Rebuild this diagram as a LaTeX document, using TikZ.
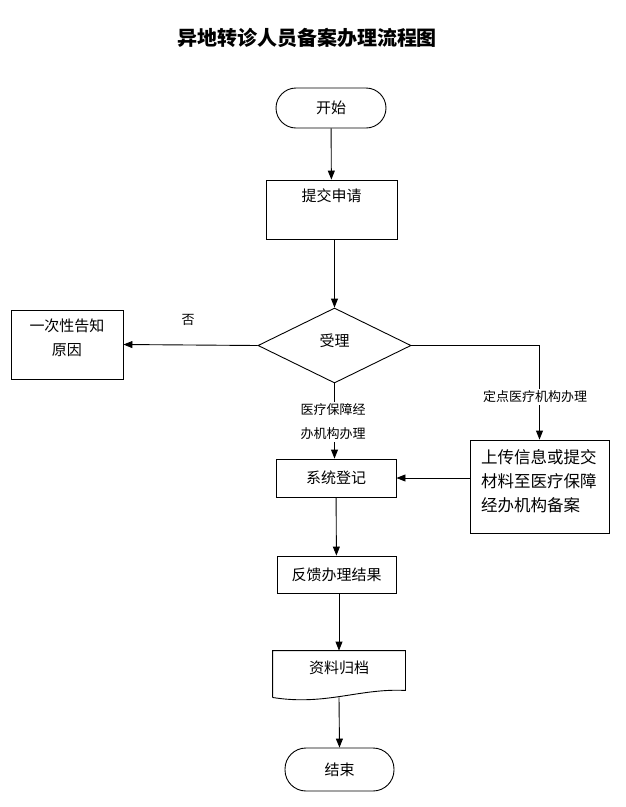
\documentclass[tikz,border=0pt]{standalone}
\usepackage{fontspec}
\setmainfont{Noto Sans CJK SC}
\usetikzlibrary{arrows.meta,shapes.geometric}

\begin{document}
\begin{tikzpicture}[x=1pt,y=-1pt,line width=0.9pt,
        every node/.style={font=\fontsize{15}{24}\selectfont},
        box/.style={draw,rectangle},
        term/.style={draw,rectangle,rounded corners=20pt},
        dec/.style={draw,diamond,aspect=2,inner sep=0pt},
        lbl/.style={font=\fontsize{13}{24}\selectfont,fill=white,inner sep=2pt},
        arr/.style={-{Triangle[length=9pt,width=7pt]}}]
            \useasboundingbox (0,0) rectangle (626,807);
            \node[font=\fontsize{20}{24}\bfseries\selectfont] (title) at (307,38) {异地转诊人员备案办理流程图};
            \node[term,minimum width=110pt,minimum height=40pt] (start) at (331,108) {开始};
            \node[box,minimum width=131pt,minimum height=59pt,inner sep=5pt,text height=16.7pt,text depth=32.3pt] (sub) at (331.5,209.5) {提交申请};
            \node[dec,minimum width=153pt,minimum height=75pt,text height=10pt,text depth=7.6pt] (acc) at (334.5,345.5) {受理};
            \node[box,minimum width=112pt,minimum height=69pt,align=center,text depth=13.8pt] (rej) at (67,344.5) {一次性告知\\原因};
            \node[box,minimum width=120pt,minimum height=38pt] (reg) at (336,478) {系统登记};
            \node[box,minimum width=139pt,minimum height=93pt,text width=117pt,align=left,text depth=61pt,font=\fontsize{16.5}{24}\selectfont] (up) at (539.5,486.5) {上传信息或提交\\材料至医疗保障\\经办机构备案};
            \node[box,minimum width=119pt,minimum height=37pt] (fb) at (336.5,574.5) {反馈办理结果};
            \node[minimum width=132pt,minimum height=46pt,inner sep=0pt,text height=22.7pt,text depth=23.3pt] (arc) at (339,674) {资料归档};
            \node[term,minimum width=109pt,minimum height=43pt,rounded corners=21pt] (end) at (339.5,769.5) {结束};
            % document shape
            \draw (arc.south west) -- (arc.north west) -- (arc.north east) -- ([yshift=7pt]arc.south east)
                .. controls (360,688) and (325,706) .. (arc.south west);
            % connectors
            \draw[arr] (start) -- (sub);
            \draw[arr] (sub.south -| acc.north) -- (acc.north);
            \draw[arr] (acc.west) -- (rej.east);
            \draw[arr] (acc.east) -| (up.north);
            \draw[arr] (acc.south) -- (acc.south |- reg.north);
            \draw[arr] (reg.east -| up.west) -- (reg.east);
            \draw[arr] (reg) -- (fb);
            \draw[arr] (fb.south -| arc.north) -- (arc.north);
            \draw[arr] (arc.south) -- (end.north);
            % labels
            \node[lbl] (nolbl) at (188,320) {否};
            \node[lbl,align=left] (mlbl) at (333,422) {医疗保障经\\办机构办理};
            \node[lbl] (dlbl) at (535,397) {定点医疗机构办理};
        \end{tikzpicture}
\end{document}
